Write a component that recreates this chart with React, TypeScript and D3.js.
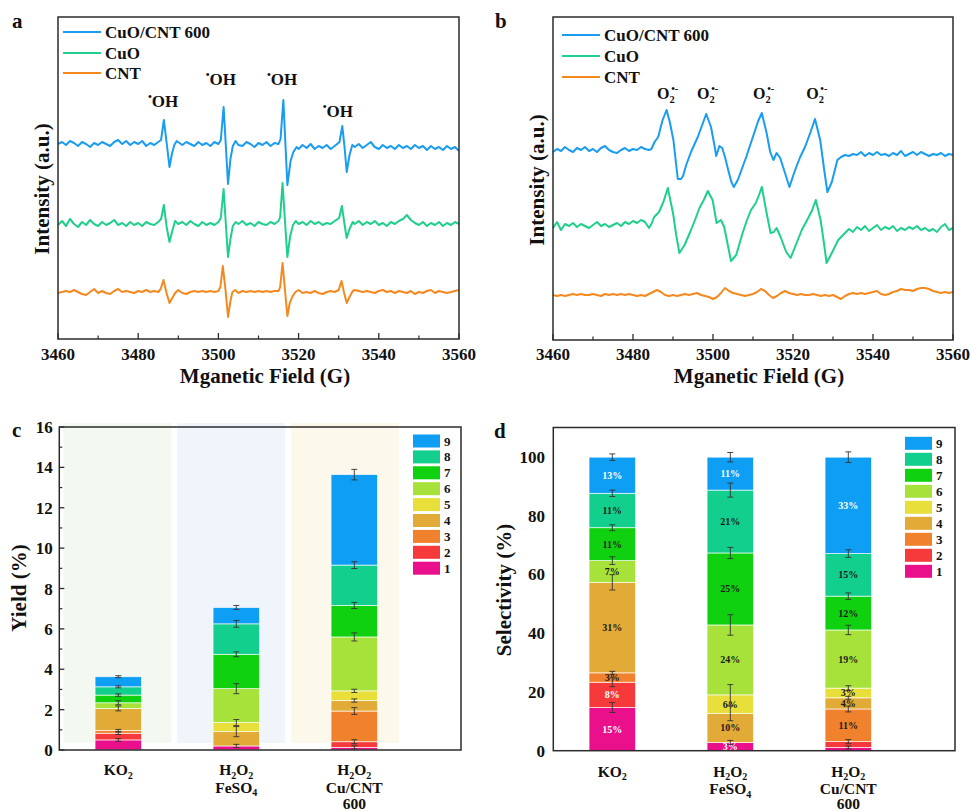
import React from 'react';
import * as d3 from 'd3';

const FONT = '"Liberation Serif"';

// ---------- EPR data (field in G, intensity in a.u.) ----------
const fieldTicks = [3460, 3480, 3500, 3520, 3540, 3560];
const fieldMinorTicks = [3470, 3490, 3510, 3530, 3550];
const seriesNames = ['CuO/CNT 600', 'CuO', 'CNT'];
const seriesColors = ['#1a9cf0', '#1fcf8c', '#f5891f'];

const ohCuOCNT: [number, number][] = [
  [3460,195],[3461,197],[3462,194],[3463,198],[3464,196],[3465,193],[3466,197],[3467,195],[3468,192],[3469,196],
  [3470,194],[3471,197],[3472,195],[3473,193],[3474,197],[3475,199],[3476,195],[3477,198],[3478,194],[3479,197],
  [3480,195],[3481,198],[3482,193],[3483,196],[3484,194],[3485,197],[3485.7,199],[3486.4,219],[3487.1,196],[3487.8,172],
  [3488.4,185],[3489,194],[3489.6,198],[3490.3,196],[3491,194],[3492,197],[3493,195],[3494,193],[3495,197],[3496,194],
  [3497,196],[3498,193],[3499,197],[3500,195],[3500.6,199],[3501.3,232],[3501.9,190],[3502.4,155],[3503,180],[3503.6,193],
  [3504.3,198],[3505,194],[3506,193],[3507,197],[3508,195],[3509,192],[3510,196],[3511,194],[3512,197],[3513,193],
  [3514,196],[3515,195],[3515.5,200],[3516.2,239],[3516.7,196],[3517.2,154],[3518,178],[3518.7,187],[3519.5,192],[3520,190],
  [3521,194],[3522,191],[3523,195],[3524,190],[3525,193],[3526,191],[3527,194],[3528,190],[3529,193],[3530.2,197],
  [3530.9,213],[3531.5,190],[3532,167],[3532.7,184],[3533.4,194],[3534,192],[3535,195],[3536,191],[3537,194],[3538,197],
  [3539,192],[3540,190],[3541,194],[3542,191],[3543,193],[3544,190],[3545,194],[3546,191],[3547,193],[3548,190],
  [3549,194],[3550,191],[3551,193],[3552,189],[3553,193],[3554,190],[3555,192],[3556,189],[3557,193],[3558,190],
  [3559,192],[3560,188],
];
const ohCuO: [number, number][] = [
  [3460,114],[3461,118],[3462,113],[3463,120],[3464,115],[3465,112],[3466,117],[3467,114],[3468,119],[3469,115],
  [3470,113],[3471,117],[3472,114],[3473,116],[3474,119],[3475,114],[3476,116],[3477,113],[3478,117],[3479,114],
  [3480,116],[3481,113],[3482,117],[3483,115],[3484,114],[3485,117],[3485.7,120],[3486.4,134],[3487.1,112],[3487.8,97],
  [3488.5,108],[3489.2,118],[3490,115],[3491,117],[3492,114],[3493,118],[3494,115],[3495,113],[3496,117],[3497,114],
  [3498,116],[3499,114],[3500,117],[3500.6,121],[3501.3,150],[3501.9,112],[3502.4,82],[3503,100],[3503.6,113],[3504.3,117],
  [3505,115],[3506,118],[3507,114],[3508,116],[3509,113],[3510,117],[3511,115],[3512,114],[3513,117],[3514,115],
  [3515,118],[3515.4,122],[3516,156],[3516.6,118],[3517.2,82],[3517.9,103],[3518.6,114],[3519.3,118],[3520,115],[3521,117],
  [3522,114],[3523,118],[3524,115],[3525,117],[3526,114],[3527,116],[3528,115],[3529,118],[3530.1,121],[3530.8,133],
  [3531.4,116],[3532,101],[3532.7,110],[3533.5,117],[3534,115],[3535,118],[3536,114],[3537,117],[3538,115],[3539,118],
  [3540,114],[3541,116],[3542,113],[3543,117],[3544,115],[3545,118],[3546,120],[3547,124],[3548,119],[3549,116],
  [3550,114],[3551,117],[3552,113],[3553,116],[3554,114],[3555,117],[3556,113],[3557,116],[3558,114],[3559,117],
  [3560,115],
];
const ohCNT: [number, number][] = [
  [3460,46],[3461,47],[3462,48],[3463,47],[3464,49],[3465,47],[3466,45],[3467,44],[3468,47],[3469,50],
  [3470,46],[3471,48],[3472,46],[3473,45],[3474,48],[3475,50],[3476,47],[3477,48],[3478,47],[3479,46],
  [3480,48],[3481,47],[3482,49],[3483,47],[3484,48],[3485,47],[3485.6,50],[3486.3,59],[3487,47],[3487.8,36],
  [3488.5,41],[3489.2,46],[3490,49],[3491,46],[3492,45],[3493,47],[3494,48],[3495,47],[3496,48],[3497,47],
  [3498,48],[3499,47],[3500,48],[3500.5,52],[3501.1,73],[3501.8,48],[3502.4,22],[3503,38],[3503.5,47],[3504.2,49],
  [3505,46],[3506,48],[3507,47],[3508,48],[3509,47],[3510,48],[3511,47],[3512,48],[3513,47],[3514,48],
  [3515,48],[3515.4,52],[3516,76],[3516.6,49],[3517.2,23],[3517.8,36],[3518.4,42],[3519.2,47],[3520,49],[3521,46],
  [3522,47],[3523,46],[3524,48],[3525,46],[3526,45],[3527,47],[3528,48],[3529,47],[3530,49],[3530.7,58],
  [3531.3,47],[3532,36],[3532.7,42],[3533.5,48],[3534,49],[3535,48],[3536,47],[3537,48],[3538,47],[3539,46],
  [3540,48],[3541,49],[3542,47],[3543,48],[3544,46],[3545,48],[3546,47],[3547,46],[3548,48],[3549,45],
  [3550,47],[3551,46],[3552,48],[3553,49],[3554,46],[3555,48],[3556,47],[3557,46],[3558,47],[3559,48],
  [3560,49],
];

const o2CuOCNT: [number, number][] = [
  [3460,188],[3461,191],[3462,189],[3463,193],[3464,190],[3465,188],[3466,192],[3467,190],[3468,193],[3469,189],
  [3470,191],[3471,188],[3472,192],[3473,194],[3474,190],[3475,188],[3476,187],[3477,190],[3478,192],[3479,189],
  [3480,191],[3481,190],[3482,193],[3483,191],[3484,190],[3484.6,191],[3485.4,198],[3486.3,203],[3487.4,220],[3488.4,230],
  [3489.2,218],[3490.1,200],[3491.2,161],[3492,161],[3492.5,164],[3493.3,175],[3494.5,188],[3495.4,196],[3496.2,203],[3497.3,215],
  [3498.3,226],[3499.5,213],[3500.3,196],[3500.8,184],[3501.6,194],[3502.3,192],[3503,183],[3503.8,170],[3504.6,158],[3505.2,153],
  [3506.2,160],[3507.3,172],[3508.3,183],[3509.3,195],[3510.3,207],[3511.3,219],[3512.2,227],[3513.4,207],[3514.3,188],[3515.1,180],
  [3515.9,187],[3516.8,182],[3518,167],[3519.1,153],[3520.1,165],[3521,175],[3521.8,183],[3523,193],[3524.3,207],[3525.5,221],
  [3526.8,200],[3527.8,170],[3528.6,148],[3529.7,158],[3531.1,180],[3532,183],[3533,185],[3534,184],[3535,186],[3536,185],
  [3537,188],[3538,184],[3539,187],[3540,185],[3541,188],[3542,185],[3543,186],[3544,184],[3545,187],[3546,185],
  [3547,189],[3548,184],[3549,186],[3550,188],[3551,185],[3552,188],[3553,186],[3554,184],[3555,186],[3556,185],
  [3557,187],[3558,184],[3559,186],[3560,185],
];
const o2CuO: [number, number][] = [
  [3460,112],[3461,118],[3462,110],[3463,116],[3464,114],[3465,117],[3466,113],[3467,116],[3468,114],[3469,112],
  [3470,115],[3471,118],[3472,114],[3473,116],[3474,113],[3475,115],[3476,117],[3477,114],[3478,118],[3479,116],
  [3480,119],[3481,117],[3482,120],[3483,118],[3484,112],[3484.6,116],[3485.3,123],[3486.5,128],[3487.6,138],[3488.7,152],
  [3490,127],[3490.8,105],[3491.6,87],[3492.9,95],[3494.5,110],[3495.5,120],[3496.6,132],[3497.7,140],[3498.7,149],[3499.9,140],
  [3500.9,117],[3502,120],[3502.8,113],[3503.7,95],[3504.5,79],[3505.8,85],[3507.4,107],[3508.5,120],[3509.5,130],[3510.7,137],
  [3511.5,145],[3512.2,153],[3513.4,127],[3514.4,107],[3515.2,108],[3515.9,112],[3516.9,103],[3518.3,88],[3519.4,82],[3520.9,97],
  [3522.2,110],[3523.8,122],[3524.8,130],[3525.7,140],[3526.9,120],[3527.7,98],[3528.4,77],[3529.7,87],[3531.3,100],[3533,107],
  [3534,111],[3535,108],[3536,113],[3537,110],[3538,114],[3539,109],[3540,112],[3541,115],[3542,110],[3543,113],
  [3544,111],[3545,114],[3546,109],[3547,112],[3548,110],[3549,113],[3550,111],[3551,114],[3552,110],[3553,112],
  [3554,109],[3555,111],[3556,108],[3557,113],[3558,116],[3559,110],[3560,112],
];
const o2CNT: [number, number][] = [
  [3460,45],[3461,44],[3462,45],[3463,44],[3464,45],[3465,46],[3466,45],[3467,46],[3468,45],[3469,45],
  [3470,46],[3471,45],[3472,44],[3473,46],[3474,45],[3475,46],[3476,45],[3477,46],[3478,45],[3479,46],
  [3480,45],[3481,44],[3482,45],[3483,44],[3484,46],[3485,48],[3486,50],[3487,48],[3488,45],[3489,44],
  [3490,45],[3491,44],[3492,45],[3493,46],[3494,45],[3495,46],[3496,47],[3497,45],[3498,44],[3499,43],
  [3500,41],[3501,43],[3502,47],[3503,52],[3504,49],[3505,47],[3506,46],[3507,45],[3508,44],[3509,45],
  [3510,46],[3511,48],[3512,51],[3513,49],[3514,45],[3515,42],[3516,44],[3517,47],[3518,49],[3519,47],
  [3520,46],[3521,45],[3522,46],[3523,45],[3524,45],[3525,46],[3526,45],[3527,44],[3528,45],[3529,44],
  [3530,45],[3531,43],[3532,41],[3533,44],[3534,46],[3535,47],[3536,46],[3537,47],[3538,46],[3539,47],
  [3540,48],[3541,49],[3542,46],[3543,45],[3544,46],[3545,48],[3546,49],[3547,51],[3548,50],[3549,50],
  [3550,49],[3551,51],[3552,52],[3553,52],[3554,51],[3555,49],[3556,48],[3557,47],[3558,48],[3559,47],
  [3560,48],
];

// annotation anchors: [field, intensity]
const ohPeakLabels: [number, number][] = [[3486.2, 232], [3500.6, 254], [3515.9, 254], [3529.8, 222]];
const o2PeakLabels: [number, number][] = [[3486.0, 241], [3496.0, 241], [3510.0, 241], [3523.3, 241]];

// ---------- Bar data ----------
const components = ['1', '2', '3', '4', '5', '6', '7', '8', '9'];
const componentColors = ['#ea0f8a', '#f63a3c', '#f0812d', '#e2aa36', '#e8df3b', '#a6e23a', '#0fd10f', '#12cf8d', '#0e9ef3'];
const categories = ['KO_2', 'H_2O_2|FeSO_4', 'H_2O_2|Cu/CNT|600'];

const yieldKO2 = [0.50, 0.33, 0.14, 1.09, 0, 0.28, 0.38, 0.41, 0.50];
const yieldFeSO4 = [0.20, 0, 0, 0.71, 0.45, 1.68, 1.70, 1.51, 0.81];
const yieldCuCNT = [0.13, 0.28, 1.52, 0.52, 0.48, 2.67, 1.56, 2.00, 4.48];
const yieldErrKO2 = [0.07, 0.06, 0.05, 0.12, 0, 0.1, 0.06, 0.05, 0.05];
const yieldErrFeSO4 = [0.08, 0, 0, 0.25, 0.15, 0.25, 0.12, 0.17, 0.1];
const yieldErrCuCNT = [0.08, 0.1, 0.17, 0.08, 0.08, 0.2, 0.15, 0.17, 0.26];
const yieldTicks = [0, 2, 4, 6, 8, 10, 12, 14, 16];
const yieldMinorTicks = [1, 3, 5, 7, 9, 11, 13, 15];

const selKO2 = [14.7, 8.6, 3.2, 30.8, 0, 7.4, 11.2, 11.7, 12.3];
const selFeSO4 = [2.8, 0, 0, 9.9, 6.3, 23.8, 24.5, 21.4, 11.2];
const selCuCNT = [1.1, 2.0, 11.1, 3.8, 3.3, 19.8, 11.5, 14.5, 32.8];
const selErrKO2 = [1.7, 1.5, 0.5, 2.6, 0, 1.3, 1.0, 1.1, 1.1];
const selErrFeSO4 = [0.7, 0, 0, 2.5, 3.5, 3.5, 1.9, 2.4, 1.6];
const selErrCuCNT = [0.5, 0.7, 1.0, 0.5, 0.8, 1.6, 1.1, 1.3, 1.8];
const selLabelsKO2 = ['15%', '8%', '3%', '31%', '', '7%', '11%', '11%', '13%'];
const selLabelsFeSO4 = ['3%', '', '', '10%', '6%', '24%', '25%', '21%', '11%'];
const selLabelsCuCNT = ['', '', '11%', '4%', '3%', '19%', '12%', '15%', '33%'];
const selTicks = [0, 20, 40, 60, 80, 100];

const bandColors = ['#f3f9f0', '#eff5fb', '#fdf8ec'];
const whiteLabelComponents = ['1', '2', '9'];

// ---------- helpers ----------
function rich(s: string, size: number) {
  const parts: { t: string; k: 'n' | 'sub' | 'sup' }[] = [];
  const re = /_(\w)|\^\{([^}]*)\}/g;
  let last = 0;
  let m: RegExpExecArray | null;
  while ((m = re.exec(s))) {
    if (m.index > last) parts.push({ t: s.slice(last, m.index), k: 'n' });
    if (m[1] !== undefined) parts.push({ t: m[1], k: 'sub' });
    else parts.push({ t: m[2], k: 'sup' });
    last = re.lastIndex;
  }
  if (last < s.length) parts.push({ t: s.slice(last), k: 'n' });
  let cur = 0;
  return parts.map((p, i) => {
    const target = p.k === 'sub' ? size * 0.25 : p.k === 'sup' ? -size * 0.42 : 0;
    const dy = target - cur;
    cur = target;
    const fs = p.k === 'n' ? size : size * 0.65;
    const dx = p.k === 'sup' && i > 0 && parts[i - 1].k === 'sub' ? -size * 0.22 : 0;
    return (
      <tspan key={i} dy={dy} dx={dx} fontSize={fs}>
        {p.t}
      </tspan>
    );
  });
}

const txt = { fontFamily: FONT };

type EprProps = {
  left: number; right: number; top: number; bottom: number; yMax: number;
  series: [number, number][][];
  peaks: [number, number][]; peakText: string; peakSize: number; peakAnchor: string;
  letter: string; letterX: number; letterY: number;
  legendX: number; legendRows: number[];
  yTitleX: number; yTitleY: number; xTitleX: number;
};

function EprPanel(p: EprProps) {
  const x = d3.scaleLinear().domain([3460, 3560]).range([p.left, p.right]);
  const y = d3.scaleLinear().domain([0, p.yMax]).range([p.bottom, p.top]);
  const line = d3.line<[number, number]>().x((d) => x(d[0])).y((d) => y(d[1]));
  return (
    <g>
      {p.series.map((s, i) => (
        <path key={i} d={line(s) || ''} fill="none" stroke={seriesColors[i]} strokeWidth={2} strokeLinejoin="round" />
      ))}
      <rect x={p.left} y={p.top} width={p.right - p.left} height={p.bottom - p.top} fill="none" stroke="#2b2b2b" strokeWidth={1.5} />
      {fieldTicks.map((t) => (
        <g key={t}>
          <line x1={x(t)} x2={x(t)} y1={p.bottom} y2={p.bottom - 6} stroke="#2b2b2b" strokeWidth={1.3} />
          <text style={txt} fontWeight={700} x={x(t)} y={360} textAnchor="middle" fontSize={17}>{t}</text>
        </g>
      ))}
      {fieldMinorTicks.map((t) => (
        <line key={t} x1={x(t)} x2={x(t)} y1={p.bottom} y2={p.bottom - 3.5} stroke="#2b2b2b" strokeWidth={1.2} />
      ))}
      <text style={txt} fontWeight={700} x={p.xTitleX} y={383} textAnchor="middle" fontSize={21}>Mganetic Field (G)</text>
      <text style={txt} fontWeight={700} transform={`translate(${p.yTitleX},${p.yTitleY}) rotate(-90)`} textAnchor="middle" fontSize={21}>Intensity (a.u.)</text>
      <text style={txt} fontWeight={700} x={p.letterX} y={p.letterY} fontSize={21}>{p.letter}</text>
      {seriesNames.map((n, i) => (
        <g key={n}>
          <line x1={p.legendX} x2={p.legendX + 38} y1={p.legendRows[i]} y2={p.legendRows[i]} stroke={seriesColors[i]} strokeWidth={2.2} />
          <text style={txt} fontWeight={700} x={p.legendX + 42} y={p.legendRows[i] + 6} fontSize={17}>{n}</text>
        </g>
      ))}
      {p.peaks.map((pk, i) => (
        <text style={txt} fontWeight={700} key={i} x={x(pk[0])} y={y(pk[1])} textAnchor={p.peakAnchor} fontSize={p.peakSize}>
          {rich(p.peakText, p.peakSize)}
        </text>
      ))}
    </g>
  );
}

type BarProps = {
  left: number; right: number; top: number; bottom: number; yMax: number;
  values: number[][]; errors: number[][]; labels?: string[][];
  ticks: number[]; minorTicks: number[]; tickLabelX: number; drawTicks: boolean;
  bands: boolean; title: string; yTitleX: number; yTitleY: number;
  letter: string; letterX: number; letterY: number;
  legendX: number; legendTop: number; legendStep: number;
  catBaselines: number[];
};

function BarPanel(p: BarProps) {
  const x = d3.scalePoint<string>().domain(categories).range([p.left, p.left + 354]).padding(0.5);
  const y = d3.scaleLinear().domain([0, p.yMax]).range([p.bottom, p.top]);
  const step = x.step();
  const barW = 46.5;
  const rows = categories.map((c, ci) => {
    const r: Record<string, number | string> = { cat: c };
    components.forEach((k, ki) => (r[k] = p.values[ci][ki]));
    return r;
  });
  const stacked = d3.stack<Record<string, number | string>>().keys(components)(rows as any);
  return (
    <g>
      {p.bands &&
        categories.map((c, ci) => (
          <rect key={c} x={p.left + 4 + ci * (step - 4)} y={p.top - 4} width={108} height={p.bottom - 7 - (p.top - 4)} fill={bandColors[ci]} />
        ))}
      {stacked.map((ser, ki) =>
        ser.map((seg, ci) => {
          const v = seg[1] - seg[0];
          if (v <= 0) return null;
          const cx = x(categories[ci]) as number;
          return (
            <rect key={`${ki}-${ci}`} x={cx - barW / 2} y={y(seg[1])} width={barW} height={y(seg[0]) - y(seg[1])}
              fill={componentColors[ki]} stroke="#ffffff" strokeOpacity={0.8} strokeWidth={0.8} />
          );
        })
      )}
      {p.labels &&
        stacked.map((ser, ki) =>
          ser.map((seg, ci) => {
            const lab = p.labels![ci][ki];
            if (!lab) return null;
            const cx = x(categories[ci]) as number;
            return (
              <text style={txt} fontWeight={700} key={`l${ki}-${ci}`} x={cx} y={y((seg[0] + seg[1]) / 2) + 3.5} textAnchor="middle" fontSize={10}
                fill={whiteLabelComponents.includes(components[ki]) ? '#ffffff' : '#1a1a1a'}>
                {lab}
              </text>
            );
          })
        )}
      {stacked.map((ser, ki) =>
        ser.map((seg, ci) => {
          const v = seg[1] - seg[0];
          const e = p.errors[ci][ki];
          if (v <= 0 || e <= 0) return null;
          const cx = x(categories[ci]) as number;
          const y1 = y(seg[1] + e);
          const y2 = y(seg[1] - e);
          return (
            <g key={`e${ki}-${ci}`} stroke="#333" strokeWidth={0.9}>
              <line x1={cx} x2={cx} y1={y1} y2={y2} />
              <line x1={cx - 3} x2={cx + 3} y1={y1} y2={y1} />
              <line x1={cx - 3} x2={cx + 3} y1={y2} y2={y2} />
            </g>
          );
        })
      )}
      <rect x={p.left} y={p.top} width={p.right - p.left} height={p.bottom - p.top} fill="none" stroke="#2b2b2b" strokeWidth={1.5} />
      {p.ticks.map((t) => (
        <g key={t}>
          {p.drawTicks && <line x1={p.left} x2={p.left + 5} y1={y(t)} y2={y(t)} stroke="#2b2b2b" strokeWidth={1.3} />}
          <text style={txt} fontWeight={700} x={p.tickLabelX} y={y(t) + 6} textAnchor="end" fontSize={17}>{t}</text>
        </g>
      ))}
      {p.drawTicks &&
        p.minorTicks.map((t) => (
          <line key={t} x1={p.left} x2={p.left + 3} y1={y(t)} y2={y(t)} stroke="#2b2b2b" strokeWidth={1.2} />
        ))}
      <text style={txt} fontWeight={700} transform={`translate(${p.yTitleX},${p.yTitleY}) rotate(-90)`} textAnchor="middle" fontSize={21}>{p.title}</text>
      <text style={txt} fontWeight={700} x={p.letterX} y={p.letterY} fontSize={21}>{p.letter}</text>
      {categories.map((c) =>
        c.split('|').map((ln, li) => (
          <text style={txt} fontWeight={700} key={`${c}-${li}`} x={x(c) as number} y={p.catBaselines[li]} textAnchor="middle" fontSize={15.5}>
            {rich(ln, 15.5)}
          </text>
        ))
      )}
      {components
        .map((k, ki) => ({ k, ki }))
        .reverse()
        .map(({ k, ki }, ri) => {
          const cy = p.legendTop + ri * p.legendStep;
          return (
            <g key={k}>
              <rect x={p.legendX} y={cy - 6.5} width={27} height={13} fill={componentColors[ki]} />
              <text style={txt} fontWeight={700} x={p.legendX + 31} y={cy + 4.5} fontSize={13}>{k}</text>
            </g>
          );
        })}
    </g>
  );
}

export default function App() {
  return (
    <svg width={972} height={812} viewBox="0 0 972 812" style={{ position: 'absolute', left: 0, top: 0, background: '#fff' }}
      fill="#111">
      <rect x={0} y={0} width={972} height={812} fill="#fff" />
      <EprPanel left={58} right={459} top={17} bottom={339} yMax={322}
        series={[ohCuOCNT, ohCuO, ohCNT]} peaks={ohPeakLabels} peakText={'^{•}OH'} peakSize={17} peakAnchor="middle"
        letter="a" letterX={12} letterY={28} legendX={63} legendRows={[32, 53, 73]}
        yTitleX={49} yTitleY={189} xTitleX={265} />
      <EprPanel left={553} right={953} top={17} bottom={340} yMax={323}
        series={[o2CuOCNT, o2CuO, o2CNT]} peaks={o2PeakLabels} peakText={'O_2^{•-}'} peakSize={16} peakAnchor="start"
        letter="b" letterX={495} letterY={28} legendX={562} legendRows={[35, 56, 77]}
        yTitleX={544} yTitleY={180} xTitleX={759} />
      <BarPanel left={59.3} right={461} top={427} bottom={750} yMax={16}
        values={[yieldKO2, yieldFeSO4, yieldCuCNT]} errors={[yieldErrKO2, yieldErrFeSO4, yieldErrCuCNT]}
        ticks={yieldTicks} minorTicks={yieldMinorTicks} tickLabelX={52.7} drawTicks={true} bands={true}
        title="Yield (%)" yTitleX={26} yTitleY={588} letter="c" letterX={12} letterY={437}
        legendX={413} legendTop={441} legendStep={15.9} catBaselines={[775, 792.5, 809]} />
      <BarPanel left={553.3} right={955} top={427.5} bottom={750.7} yMax={110}
        values={[selKO2, selFeSO4, selCuCNT]} errors={[selErrKO2, selErrFeSO4, selErrCuCNT]}
        labels={[selLabelsKO2, selLabelsFeSO4, selLabelsCuCNT]}
        ticks={selTicks} minorTicks={[]} tickLabelX={545} drawTicks={false} bands={false}
        title="Selectivity (%)" yTitleX={511} yTitleY={590} letter="d" letterX={494} letterY={438}
        legendX={905} legendTop={443.3} legendStep={16} catBaselines={[776.5, 794, 809]} />
    </svg>
  );
}
